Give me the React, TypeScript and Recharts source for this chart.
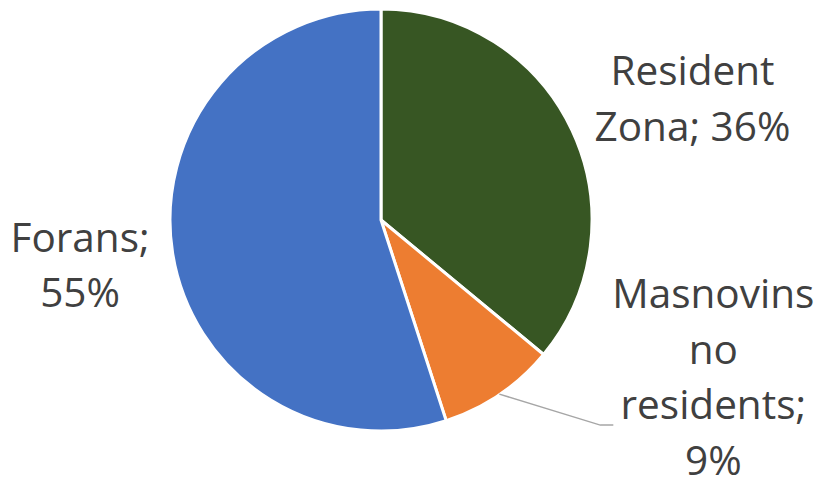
import React from "react";
import { PieChart, Pie, Cell } from "recharts";

const categories = ["Resident Zona", "Masnovins no residents", "Forans"];
const values = [36, 9, 55];
const colors = ["#375623", "#ED7D31", "#4472C4"];

const data = categories.map((name, i) => ({ name, value: values[i] }));

// layout of each label relative to the slice's outer edge at its mid angle
const labelLayout = [
  { dx: 121, dy: -45, groups: [1, 2], leader: null as null | number[][] },
  { dx: 214, dy: -86, groups: [1, 1, 1, 1], leader: [[101, 31], [114, 31]] },
  { dx: -93, dy: -1, groups: [1, 1], leader: null },
];

const RAD = Math.PI / 180;
const LINE_H = 55.5;

const renderLabel = (props: any) => {
  const { cx, cy, midAngle, outerRadius, index, name, value } = props;
  const layout = labelLayout[index];
  const r = outerRadius - 0.5;
  const ex = cx + r * Math.cos(-midAngle * RAD);
  const ey = cy + r * Math.sin(-midAngle * RAD);
  const words = `${name}; ${value}%`.split(" ");
  const lines: string[] = [];
  let k = 0;
  layout.groups.forEach((g) => {
    lines.push(words.slice(k, k + g).join(" "));
    k += g;
  });
  const tx = ex + layout.dx;
  const ty = ey + layout.dy;
  return (
    <g key={`lbl-${index}`}>
      {layout.leader && (
        <polyline
          points={[[0, 0], ...layout.leader]
            .map(([a, b]) => `${ex + a},${ey + b}`)
            .join(" ")}
          fill="none"
          stroke="#A6A6A6"
          strokeWidth={1.5}
        />
      )}
      <text
        x={tx}
        y={ty}
        textAnchor="middle"
        fill="#404040"
        style={{ fontFamily: "'Open Sans', sans-serif", fontSize: 40.5 }}
      >
        {lines.map((ln, i) => (
          <tspan key={i} x={tx} y={ty + i * LINE_H}>
            {ln}
          </tspan>
        ))}
      </text>
    </g>
  );
};

export default function App() {
  return (
    <div style={{ position: "absolute", left: 0, top: 0, background: "#fff" }}>
      <PieChart width={821} height={483} margin={{ top: 0, right: 0, bottom: 0, left: 0 }}>
        <Pie
          data={data}
          dataKey="value"
          nameKey="name"
          cx={381}
          cy={220}
          outerRadius={211}
          startAngle={90}
          endAngle={-270}
          stroke="#FFFFFF"
          strokeWidth={3}
          label={renderLabel}
          labelLine={false}
          isAnimationActive={false}
        >
          {data.map((d, i) => (
            <Cell key={d.name} fill={colors[i]} />
          ))}
        </Pie>
      </PieChart>
    </div>
  );
}
